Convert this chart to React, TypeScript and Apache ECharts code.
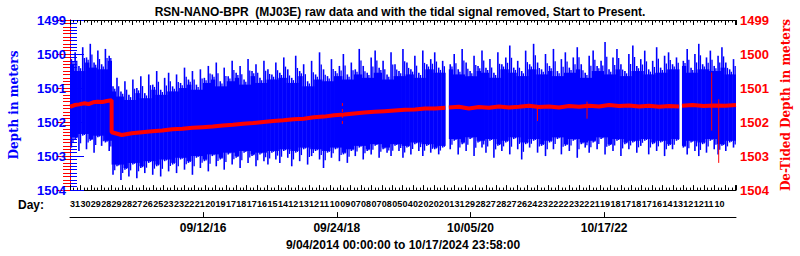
import React, { useEffect, useRef } from 'react';
import * as echarts from 'echarts';

const TITLE = 'RSN-NANO-BPR  (MJ03E) raw data and with the tidal signal removed, Start to Present.';
const RANGE_TEXT = '9/04/2014 00:00:00 to 10/17/2024 23:58:00';
const START = '2014-09-04T00:00:00Z';
const END = '2024-10-17T23:58:00Z';

// data segments (start, end) of the raw record
const segStarts = ['2014-09-04T00:00:00Z', '2015-04-23T00:00:00Z', '2020-06-07T00:00:00Z', '2023-12-23T00:00:00Z'];
const segEnds = ['2015-04-23T00:00:00Z', '2020-05-18T00:00:00Z', '2023-12-07T00:00:00Z', '2024-10-17T23:58:00Z'];

// raw depth envelope (high tide top / low tide bottom), meters
const seg1High = [1500.15, 1499.95, 1500.35, 1499.8, 1500.1, 1499.7, 1500.25, 1499.9, 1500.3, 1499.85, 1500.05];
const seg1Low = [1502.75, 1502.5, 1502.85, 1502.4, 1502.8, 1502.55, 1502.9, 1502.45, 1502.7, 1502.6, 1502.85];
const seg2High = [
  1500.95, 1500.7, 1501.1, 1500.8, 1501.2, 1500.75, 1501.0, 1500.65, 1501.15,
  1500.6, 1500.9, 1500.5, 1501.05, 1500.7, 1500.55, 1500.95, 1500.6,
  1500.85, 1500.4, 1500.75, 1500.5, 1500.9, 1500.45, 1500.7, 1500.35,
  1500.6, 1500.25, 1500.8, 1500.4, 1500.65, 1500.2, 1500.55, 1500.35, 1500.75, 1500.15, 1500.5, 1500.3, 1500.7, 1500.2, 1500.45, 1500.6, 1500.25,
  1500.55, 1500.1, 1500.45, 1500.7, 1500.05, 1500.5, 1500.3, 1500.8, 1500.2, 1500.6, 1499.95, 1500.45, 1500.65, 1500.15, 1500.5, 1500.35, 1500.0, 1500.6, 1500.25,
  1500.45, 1499.85, 1500.35, 1500.55, 1500.1, 1499.9, 1500.4, 1500.2, 1500.6, 1499.95, 1500.3, 1500.5, 1499.85, 1500.25, 1500.45, 1500.05, 1500.55, 1499.9, 1500.3, 1500.15, 1499.95, 1500.4, 1500.2,
];
const seg2Low = [
  1503.55, 1503.3, 1503.7, 1503.4, 1503.6, 1503.25, 1503.65, 1503.35, 1503.5,
  1503.2, 1503.55, 1503.3, 1503.6, 1503.15, 1503.45, 1503.25, 1503.5,
  1503.1, 1503.4, 1503.2, 1503.55, 1503.05, 1503.35, 1503.15, 1503.45,
  1503.0, 1503.3, 1503.1, 1503.4, 1502.95, 1503.25, 1503.05, 1503.35, 1502.9, 1503.2, 1503.0, 1503.3, 1502.95, 1503.15, 1503.25, 1502.9, 1503.1,
  1503.2, 1502.85, 1503.05, 1503.3, 1502.9, 1503.15, 1502.8, 1503.25, 1503.0, 1502.85, 1503.1, 1503.35, 1502.9, 1503.05, 1502.8, 1503.15, 1502.95, 1503.2, 1502.85,
  1503.0, 1502.75, 1503.1, 1502.85, 1502.95, 1502.7, 1503.05, 1502.8, 1502.9, 1503.0, 1502.7, 1502.85, 1503.05, 1502.75, 1502.95, 1502.65, 1502.85, 1503.0, 1502.7, 1502.9, 1502.8, 1502.95, 1502.75,
];
const seg3High = [
  1500.3, 1500.0, 1500.45, 1499.85, 1500.25, 1500.5, 1500.05, 1500.35, 1499.9, 1500.4,
  1500.15, 1500.55, 1499.95, 1500.3, 1500.1, 1499.75, 1500.4, 1500.2, 1500.5, 1499.9,
  1500.3, 1499.7, 1500.25, 1500.45, 1500.0, 1500.35, 1499.85, 1500.5, 1500.15, 1499.95,
  1500.4, 1500.1, 1499.8, 1500.3, 1500.55, 1500.05, 1499.9, 1500.35, 1500.2, 1499.65,
  1500.45, 1500.1, 1499.85, 1500.3, 1500.5, 1500.0, 1499.75, 1500.35, 1500.15, 1499.9,
  1500.45, 1500.2, 1499.8, 1500.4, 1500.05, 1499.95, 1500.3, 1500.1,
];
const seg3Low = [
  1502.8, 1502.55, 1502.95, 1502.65, 1502.85, 1502.5, 1503.0, 1502.6, 1502.75, 1502.9,
  1502.55, 1503.05, 1502.7, 1502.85, 1502.6, 1502.95, 1502.5, 1502.8, 1503.1, 1502.65,
  1502.75, 1502.55, 1502.9, 1502.7, 1503.0, 1502.6, 1502.8, 1502.5, 1502.95, 1502.7,
  1502.85, 1502.55, 1503.05, 1502.65, 1502.75, 1502.9, 1502.6, 1502.8, 1502.5, 1502.95,
  1502.7, 1502.85, 1502.55, 1503.0, 1502.65, 1502.8, 1502.6, 1502.9, 1502.7, 1502.55,
  1502.95, 1502.65, 1502.85, 1502.6, 1503.0, 1502.7, 1502.8, 1502.55,
];
const seg4High = [1500.2, 1499.85, 1500.4, 1500.0, 1499.7, 1500.3, 1500.1, 1499.9, 1500.35, 1500.05, 1499.8, 1500.25, 1500.45, 1500.15];
const seg4Low = [1502.75, 1502.95, 1502.6, 1502.85, 1503.0, 1502.65, 1502.9, 1502.55, 1502.8, 1502.95, 1502.7, 1502.85, 1502.6, 1502.75];

// de-tided depth, meters
const red1 = [1501.55, 1501.5, 1501.48, 1501.45, 1501.47, 1501.42, 1501.4, 1501.41, 1501.38, 1501.36];
const red2 = [
  1502.3, 1502.38, 1502.33, 1502.3, 1502.27, 1502.25, 1502.21, 1502.2, 1502.17, 1502.15,
  1502.13, 1502.1, 1502.08, 1502.05, 1502.03, 1502.0, 1501.97, 1501.95, 1501.92, 1501.9,
  1501.86, 1501.84, 1501.8, 1501.78, 1501.75, 1501.72, 1501.7, 1501.68, 1501.66, 1501.64,
  1501.63, 1501.6, 1501.6, 1501.58,
];
const red3 = [
  1501.57, 1501.55, 1501.6, 1501.56, 1501.58, 1501.54, 1501.57, 1501.55, 1501.52, 1501.56,
  1501.54, 1501.57, 1501.53, 1501.55, 1501.52, 1501.54, 1501.5, 1501.53, 1501.51, 1501.54,
  1501.52, 1501.55, 1501.53, 1501.54,
];
const red4 = [1501.52, 1501.5, 1501.53, 1501.51, 1501.52, 1501.5];

// isolated de-tided spikes: date, top, bottom
const spikeDates = ['2018-10-25T00:00:00Z', '2021-10-12T00:00:00Z', '2022-07-14T00:00:00Z', '2024-06-05T00:00:00Z', '2024-07-14T00:00:00Z'];
const spikeTops = [1501.44, 1501.55, 1501.4, 1500.54, 1501.33];
const spikeBottoms = [1502.14, 1501.97, 1501.9, 1502.25, 1503.2];

// axis texts
const dayLabels = [
  '31', '30', '29', '28', '29', '28', '27', '26', '25', '23',
  '23', '22', '21', '20', '19', '17', '18', '17', '16', '15',
  '14', '12', '13', '12', '11', '10', '09', '07', '08', '07',
  '08', '05', '04', '02', '02', '02', '01', '31', '29', '28',
  '27', '28', '27', '26', '24', '23', '22', '22', '23', '22',
  '21', '19', '18', '17', '18', '17', '16', '14', '13', '12',
  '12', '11', '10',
];
const dateTicks = ['2016-09-12T00:00:00Z', '2018-09-24T00:00:00Z', '2020-10-05T00:00:00Z', '2022-10-17T00:00:00Z'];
const dateTickLabels = ['09/12/16', '09/24/18', '10/05/20', '10/17/22'];

const DAY_MS = 86400000;
const startMs = Date.parse(START);
const toDay = (s: string) => (Date.parse(s) - startMs) / DAY_MS;
const TOTAL = toDay(END);
const DAY_TICK = 57.7;

const BLUE = '#0000ff';
const RED = '#ff0000';
const SANS = "'Liberation Sans', Arial, Helvetica, sans-serif";
const SERIF = "'DejaVu Serif', 'Liberation Serif', serif";

function buildBlue() {
  const highs = [seg1High, seg2High, seg3High, seg4High];
  const lows = [seg1Low, seg2Low, seg3Low, seg4Low];
  const out: number[][] = [];
  highs.forEach((h, k) => {
    const s = toDay(segStarts[k]);
    const e = toDay(segEnds[k]);
    const step = (e - s) / h.length;
    const l = lows[k];
    h.forEach((v, i) => {
      const a = Math.max(0, i - 1);
      const b = Math.min(h.length - 1, i + 1);
      const coreTop = Math.max(h[a], v, h[b]) + 0.15;
      const coreBot = Math.min(l[a], l[i], l[b]) - 0.05;
      out.push([s + i * step, s + (i + 1) * step, v, l[i], coreTop, coreBot]);
    });
  });
  return out;
}

function buildRed() {
  const reds = [red1, red2, red3, red4];
  const out: any[] = [];
  reds.forEach((r, k) => {
    const s = toDay(segStarts[k]);
    const e = toDay(segEnds[k]);
    if (k >= 2) out.push([s - 1, null]);
    r.forEach((v, i) => out.push([s + (i * (e - s)) / (r.length - 1), v]));
  });
  return out;
}

export default function App() {
  const ref = useRef<HTMLDivElement>(null);
  useEffect(() => {
    document.body.style.margin = '0';
    const chart = echarts.init(ref.current!, undefined, { renderer: 'svg' });
    const dayAxisCommon = {
      type: 'value',
      min: 0,
      max: TOTAL,
      interval: DAY_TICK,
      splitLine: { show: false },
      axisLine: { show: true, lineStyle: { color: '#000', width: 1 } },
      axisTick: { show: true, inside: false, length: -5, lineStyle: { color: '#000', width: 1 } },
      minorTick: { show: true, splitNumber: 3, length: -2.5, lineStyle: { color: '#000', width: 1 } },
    };
    const yCommon = (color: string, pos: string, name: string) => ({
      type: 'value',
      position: pos,
      min: 1499,
      max: 1504,
      interval: 1,
      inverse: true,
      name,
      nameLocation: 'middle',
      nameRotate: 90,
      nameGap: pos === 'left' ? 50 : 43,
      nameTextStyle: { color, fontFamily: SERIF, fontWeight: 'bold', fontSize: 12 },
      splitLine: { show: false },
      axisLine: { show: true, lineStyle: { color, width: 1 } },
      axisTick: { show: true, inside: false, length: -14, lineStyle: { color, width: 1 } },
      minorTick: { show: true, splitNumber: 10, length: -7, lineStyle: { color, width: 1 } },
      axisLabel: {
        color, fontFamily: SANS, fontWeight: 'bold', fontSize: 13, margin: 4,
        formatter: (v: number) => String(v),
      },
    });
    chart.setOption({
      animation: false,
      backgroundColor: '#ffffff',
      title: {
        text: TITLE,
        left: 'center',
        top: 1,
        textStyle: { fontFamily: SANS, fontWeight: 'bold', fontSize: 12, color: '#000' },
      },
      grid: { left: 63, right: 64, top: 20, height: 172, containLabel: false },
      xAxis: [
        {
          ...dayAxisCommon,
          position: 'bottom',
          axisLabel: {
            show: true,
            hideOverlap: false,
            showMinLabel: true,
            showMaxLabel: true,
            align: 'left',
            margin: 9,
            color: '#000',
            fontFamily: SANS,
            fontWeight: 'bold',
            fontSize: 9,
            formatter: (v: number) => dayLabels[Math.round(v / DAY_TICK)] ?? '',
          },
        },
        { ...dayAxisCommon, position: 'top', axisLabel: { show: false } },
        {
          type: 'value',
          min: 0,
          max: TOTAL,
          position: 'bottom',
          offset: 27,
          splitLine: { show: false },
          axisLine: { show: true, lineStyle: { color: '#000', width: 1 } },
          axisTick: { show: true, inside: false, length: -5, customValues: dateTicks.map(toDay), lineStyle: { color: '#000', width: 1 } },
          axisLabel: {
            show: true,
            customValues: dateTicks.map(toDay),
            margin: 5,
            color: '#000',
            fontFamily: SANS,
            fontWeight: 'bold',
            fontSize: 12,
            formatter: (v: number) => {
              const i = dateTicks.map(toDay).findIndex((d) => Math.abs(d - v) < 0.5);
              return i >= 0 ? dateTickLabels[i] : '';
            },
          },
          name: RANGE_TEXT,
          nameLocation: 'middle',
          nameGap: 17,
          nameTextStyle: { color: '#000', fontFamily: SANS, fontWeight: 'bold', fontSize: 12 },
        },
      ],
      yAxis: [yCommon(BLUE, 'left', 'Depth in meters'), yCommon(RED, 'right', 'De-Tided Depth in meters')],
      graphic: [
        {
          type: 'text',
          left: 18,
          top: 199,
          style: { text: 'Day:', fill: '#000', font: `bold 12px ${SANS}` },
        },
      ],
      series: [
        {
          type: 'custom',
          name: 'raw',
          xAxisIndex: 0,
          yAxisIndex: 0,
          clip: true,
          encode: { x: [0, 1], y: [2, 3] },
          data: buildBlue(),
          renderItem: (params: any, api: any) => {
            const p0 = api.coord([api.value(0), api.value(2)]);
            const p1 = api.coord([api.value(1), api.value(3)]);
            const c0 = api.coord([api.value(0), api.value(4)]);
            const c1 = api.coord([api.value(1), api.value(5)]);
            const w = p1[0] - p0[0];
            const topMid = p0[1] + 0.45 * (c0[1] - p0[1]);
            const botMid = p1[1] - 0.45 * (p1[1] - c1[1]);
            return {
              type: 'group',
              children: [
                { type: 'rect', shape: { x: p0[0], y: c0[1], width: w + 0.4, height: c1[1] - c0[1] }, style: { fill: BLUE } },
                { type: 'rect', shape: { x: p0[0] + 0.15 * w, y: p0[1], width: 1.6, height: p1[1] - p0[1] }, style: { fill: BLUE } },
                { type: 'rect', shape: { x: p0[0] + 0.62 * w, y: topMid, width: 1.3, height: botMid - topMid }, style: { fill: BLUE } },
              ],
            };
          },
        },
        {
          type: 'line',
          name: 'detided',
          xAxisIndex: 0,
          yAxisIndex: 1,
          showSymbol: false,
          connectNulls: false,
          lineStyle: { color: RED, width: 4 },
          data: buildRed(),
        },
        {
          type: 'custom',
          name: 'spikes',
          xAxisIndex: 0,
          yAxisIndex: 1,
          clip: true,
          encode: { x: 0, y: [1, 2] },
          data: spikeDates.map((d, i) => [toDay(d), spikeTops[i], spikeBottoms[i], i === 0 ? 1 : 0]),
          renderItem: (params: any, api: any) => {
            const a = api.coord([api.value(0), api.value(1)]);
            const b = api.coord([api.value(0), api.value(2)]);
            return {
              type: 'line',
              shape: { x1: a[0], y1: a[1], x2: b[0], y2: b[1] },
              style: { stroke: RED, lineWidth: 1, lineDash: api.value(3) ? [3, 3] : null },
            };
          },
        },
      ],
    });
    return () => chart.dispose();
  }, []);
  return <div ref={ref} style={{ width: 800, height: 256 }} />;
}
